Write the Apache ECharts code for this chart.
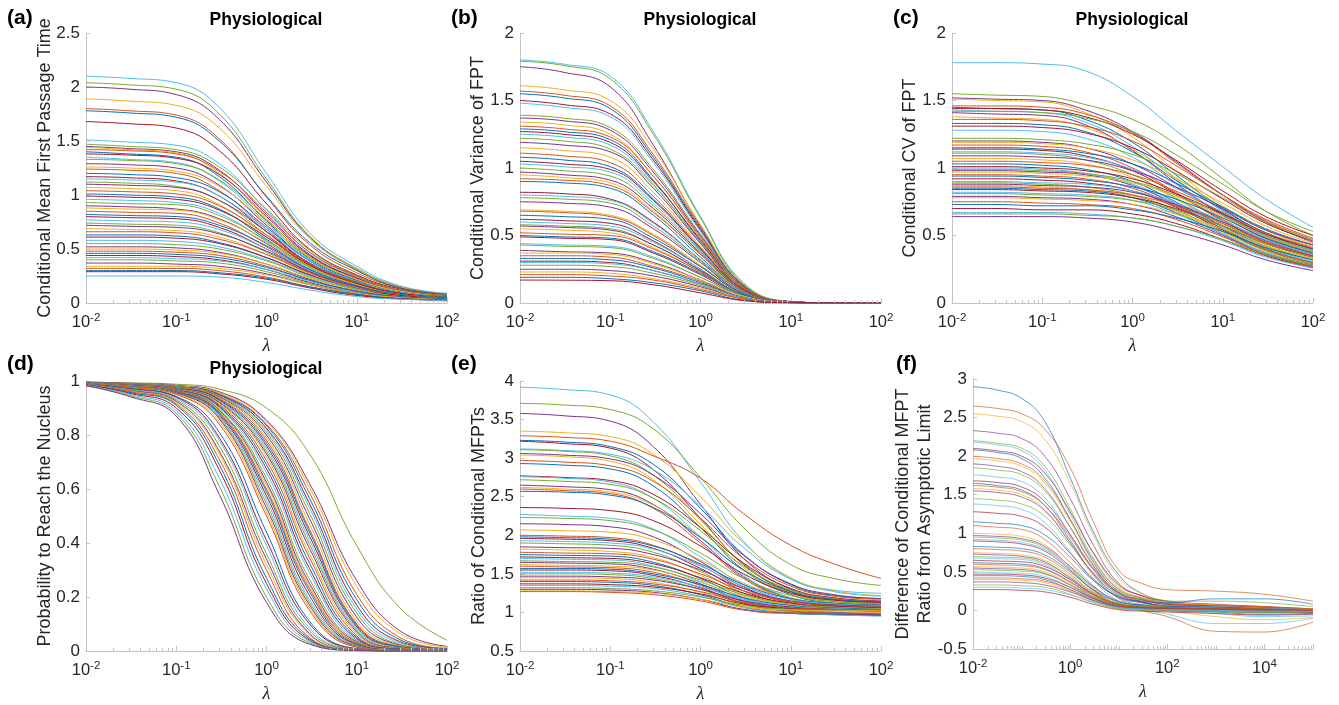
<!DOCTYPE html>
<html>
<head>
<meta charset="utf-8">
<script src="https://cdn.jsdelivr.net/npm/echarts@6/dist/echarts.min.js"></script>
<style>
  html, body { margin: 0; padding: 0; background: #fff; }
  #chart { width: 1339px; height: 705px; }
</style>
</head>
<body>
<div id="chart"></div>
<script>
// ---------------- DATA ----------------
const lambdaGrid = [0.01, 0.03, 0.1, 0.3, 1, 3, 10, 30, 100];
const lambdaGridF = [0.01, 0.03, 0.1, 0.3, 1, 3, 10, 30, 100, 1000, 10000, 100000];

// (a) Conditional mean first passage time
const meanFPT = [
  [2.10, 2.08, 2.04, 1.81, 1.20, 0.65, 0.34, 0.16, 0.09],
  [2.04, 2.02, 1.98, 1.75, 1.15, 0.62, 0.32, 0.15, 0.08],
  [2.00, 1.98, 1.93, 1.70, 1.12, 0.61, 0.31, 0.15, 0.08],
  [1.89, 1.87, 1.83, 1.62, 1.08, 0.60, 0.31, 0.15, 0.08],
  [1.80, 1.78, 1.74, 1.52, 0.98, 0.54, 0.28, 0.14, 0.08],
  [1.78, 1.76, 1.72, 1.50, 0.99, 0.56, 0.30, 0.14, 0.08],
  [1.68, 1.66, 1.62, 1.41, 0.92, 0.50, 0.26, 0.13, 0.07],
  [1.51, 1.49, 1.46, 1.29, 0.86, 0.47, 0.24, 0.12, 0.07],
  [1.47, 1.45, 1.42, 1.26, 0.87, 0.49, 0.25, 0.12, 0.07],
  [1.45, 1.43, 1.40, 1.23, 0.82, 0.45, 0.23, 0.11, 0.06],
  [1.44, 1.42, 1.39, 1.20, 0.78, 0.42, 0.21, 0.10, 0.06],
  [1.42, 1.41, 1.38, 1.22, 0.84, 0.47, 0.25, 0.12, 0.07],
  [1.40, 1.38, 1.35, 1.17, 0.76, 0.41, 0.21, 0.10, 0.06],
  [1.38, 1.37, 1.34, 1.19, 0.80, 0.44, 0.23, 0.11, 0.06],
  [1.35, 1.33, 1.30, 1.13, 0.74, 0.40, 0.20, 0.10, 0.06],
  [1.33, 1.32, 1.29, 1.14, 0.77, 0.43, 0.22, 0.11, 0.06],
  [1.29, 1.28, 1.25, 1.09, 0.72, 0.39, 0.20, 0.10, 0.05],
  [1.26, 1.25, 1.22, 1.08, 0.74, 0.42, 0.22, 0.11, 0.06],
  [1.24, 1.23, 1.20, 1.04, 0.68, 0.37, 0.19, 0.09, 0.05],
  [1.20, 1.19, 1.16, 1.03, 0.70, 0.39, 0.20, 0.10, 0.06],
  [1.17, 1.16, 1.13, 0.99, 0.66, 0.36, 0.18, 0.09, 0.05],
  [1.15, 1.14, 1.12, 0.99, 0.68, 0.39, 0.20, 0.10, 0.05],
  [1.12, 1.11, 1.08, 0.95, 0.63, 0.35, 0.18, 0.09, 0.05],
  [1.10, 1.09, 1.07, 0.95, 0.66, 0.37, 0.19, 0.09, 0.05],
  [1.07, 1.06, 1.04, 0.91, 0.61, 0.34, 0.17, 0.08, 0.05],
  [1.04, 1.03, 1.01, 0.90, 0.63, 0.36, 0.19, 0.09, 0.05],
  [1.01, 1.00, 0.98, 0.87, 0.59, 0.33, 0.17, 0.08, 0.05],
  [0.99, 0.98, 0.96, 0.86, 0.61, 0.35, 0.18, 0.09, 0.05],
  [0.96, 0.95, 0.93, 0.83, 0.57, 0.32, 0.16, 0.08, 0.04],
  [0.93, 0.92, 0.91, 0.81, 0.58, 0.34, 0.17, 0.08, 0.05],
  [0.90, 0.89, 0.87, 0.78, 0.55, 0.31, 0.16, 0.08, 0.04],
  [0.88, 0.87, 0.86, 0.77, 0.56, 0.33, 0.17, 0.08, 0.05],
  [0.85, 0.84, 0.83, 0.74, 0.52, 0.30, 0.15, 0.07, 0.04],
  [0.82, 0.81, 0.80, 0.72, 0.53, 0.31, 0.16, 0.08, 0.05],
  [0.80, 0.79, 0.78, 0.70, 0.50, 0.29, 0.15, 0.07, 0.04],
  [0.77, 0.76, 0.75, 0.68, 0.50, 0.30, 0.15, 0.07, 0.04],
  [0.74, 0.73, 0.72, 0.65, 0.47, 0.28, 0.14, 0.07, 0.04],
  [0.72, 0.71, 0.70, 0.64, 0.48, 0.29, 0.15, 0.07, 0.04],
  [0.69, 0.68, 0.67, 0.61, 0.45, 0.27, 0.14, 0.07, 0.04],
  [0.66, 0.66, 0.65, 0.59, 0.45, 0.28, 0.14, 0.07, 0.04],
  [0.63, 0.63, 0.62, 0.56, 0.42, 0.26, 0.13, 0.06, 0.04],
  [0.61, 0.61, 0.60, 0.55, 0.42, 0.26, 0.13, 0.07, 0.04],
  [0.58, 0.58, 0.57, 0.52, 0.40, 0.25, 0.13, 0.06, 0.04],
  [0.55, 0.55, 0.54, 0.50, 0.39, 0.24, 0.12, 0.06, 0.04],
  [0.52, 0.52, 0.51, 0.47, 0.36, 0.22, 0.11, 0.06, 0.03],
  [0.50, 0.50, 0.49, 0.46, 0.36, 0.23, 0.12, 0.06, 0.04],
  [0.48, 0.48, 0.47, 0.44, 0.34, 0.21, 0.11, 0.05, 0.03],
  [0.46, 0.46, 0.45, 0.42, 0.33, 0.21, 0.11, 0.06, 0.04],
  [0.44, 0.44, 0.43, 0.40, 0.31, 0.19, 0.10, 0.05, 0.03],
  [0.42, 0.42, 0.41, 0.39, 0.31, 0.20, 0.10, 0.05, 0.03],
  [0.40, 0.40, 0.39, 0.37, 0.29, 0.18, 0.09, 0.05, 0.03],
  [0.37, 0.37, 0.36, 0.34, 0.27, 0.17, 0.09, 0.05, 0.03],
  [0.34, 0.34, 0.34, 0.32, 0.26, 0.17, 0.09, 0.05, 0.03],
  [0.32, 0.32, 0.32, 0.30, 0.24, 0.15, 0.08, 0.04, 0.03],
  [0.30, 0.30, 0.30, 0.28, 0.23, 0.15, 0.08, 0.04, 0.03],
  [0.29, 0.29, 0.29, 0.27, 0.22, 0.14, 0.07, 0.04, 0.02],
  [0.25, 0.25, 0.25, 0.24, 0.19, 0.12, 0.06, 0.035, 0.025]
];

// (b) Conditional variance of FPT
const varianceFPT = [
  [1.80, 1.77, 1.68, 1.27, 0.64, 0.15, 0.012, 0.001, 0],
  [1.79, 1.76, 1.66, 1.25, 0.63, 0.14, 0.011, 0.001, 0],
  [1.75, 1.71, 1.60, 1.17, 0.57, 0.13, 0.010, 0.001, 0],
  [1.61, 1.58, 1.50, 1.14, 0.58, 0.14, 0.011, 0.001, 0],
  [1.57, 1.54, 1.46, 1.10, 0.56, 0.13, 0.010, 0.001, 0],
  [1.55, 1.52, 1.44, 1.08, 0.55, 0.13, 0.010, 0.001, 0],
  [1.50, 1.47, 1.40, 1.06, 0.54, 0.12, 0.010, 0.001, 0],
  [1.48, 1.45, 1.38, 1.04, 0.53, 0.12, 0.009, 0.001, 0],
  [1.39, 1.37, 1.30, 0.99, 0.51, 0.12, 0.009, 0.001, 0],
  [1.37, 1.35, 1.28, 0.97, 0.50, 0.12, 0.009, 0.001, 0],
  [1.34, 1.32, 1.25, 0.94, 0.48, 0.11, 0.009, 0.001, 0],
  [1.31, 1.29, 1.23, 0.94, 0.49, 0.12, 0.009, 0.001, 0],
  [1.29, 1.27, 1.21, 0.91, 0.46, 0.11, 0.008, 0.001, 0],
  [1.27, 1.25, 1.19, 0.90, 0.47, 0.11, 0.009, 0.001, 0],
  [1.25, 1.23, 1.17, 0.88, 0.45, 0.10, 0.008, 0.001, 0],
  [1.22, 1.20, 1.14, 0.87, 0.45, 0.11, 0.008, 0.001, 0],
  [1.19, 1.17, 1.12, 0.85, 0.44, 0.10, 0.008, 0.001, 0],
  [1.15, 1.13, 1.08, 0.82, 0.42, 0.10, 0.008, 0.001, 0],
  [1.11, 1.09, 1.04, 0.79, 0.41, 0.10, 0.007, 0.001, 0],
  [1.08, 1.06, 1.01, 0.77, 0.40, 0.09, 0.007, 0.001, 0],
  [1.05, 1.03, 0.99, 0.76, 0.40, 0.10, 0.007, 0.001, 0],
  [1.03, 1.01, 0.97, 0.74, 0.39, 0.09, 0.007, 0.001, 0],
  [1.00, 0.98, 0.94, 0.72, 0.38, 0.09, 0.007, 0.001, 0],
  [0.97, 0.95, 0.91, 0.70, 0.37, 0.09, 0.007, 0.001, 0],
  [0.95, 0.93, 0.89, 0.68, 0.36, 0.08, 0.006, 0.001, 0],
  [0.92, 0.91, 0.87, 0.67, 0.36, 0.09, 0.007, 0.001, 0],
  [0.90, 0.89, 0.85, 0.65, 0.34, 0.08, 0.006, 0.001, 0],
  [0.82, 0.81, 0.77, 0.60, 0.32, 0.08, 0.006, 0.001, 0],
  [0.80, 0.79, 0.76, 0.59, 0.32, 0.08, 0.006, 0.001, 0],
  [0.78, 0.77, 0.74, 0.57, 0.31, 0.07, 0.005, 0.001, 0],
  [0.75, 0.74, 0.71, 0.55, 0.30, 0.07, 0.005, 0.001, 0],
  [0.69, 0.68, 0.65, 0.51, 0.28, 0.07, 0.005, 0.001, 0],
  [0.68, 0.67, 0.64, 0.50, 0.27, 0.07, 0.005, 0.001, 0],
  [0.65, 0.64, 0.62, 0.48, 0.27, 0.07, 0.005, 0.001, 0],
  [0.62, 0.61, 0.59, 0.46, 0.25, 0.06, 0.005, 0.001, 0],
  [0.60, 0.59, 0.57, 0.45, 0.25, 0.06, 0.005, 0.001, 0],
  [0.58, 0.57, 0.55, 0.43, 0.24, 0.06, 0.005, 0.001, 0],
  [0.57, 0.56, 0.54, 0.43, 0.24, 0.06, 0.005, 0.001, 0],
  [0.55, 0.54, 0.52, 0.41, 0.23, 0.06, 0.004, 0.001, 0],
  [0.52, 0.51, 0.50, 0.40, 0.23, 0.06, 0.004, 0.001, 0],
  [0.50, 0.49, 0.48, 0.38, 0.22, 0.06, 0.004, 0.001, 0],
  [0.49, 0.48, 0.47, 0.37, 0.21, 0.05, 0.004, 0.001, 0],
  [0.44, 0.43, 0.42, 0.34, 0.19, 0.05, 0.004, 0.001, 0],
  [0.43, 0.42, 0.41, 0.33, 0.19, 0.05, 0.004, 0.001, 0],
  [0.39, 0.38, 0.37, 0.30, 0.17, 0.04, 0.004, 0.001, 0],
  [0.37, 0.37, 0.36, 0.29, 0.17, 0.05, 0.004, 0.001, 0],
  [0.35, 0.35, 0.34, 0.27, 0.16, 0.04, 0.003, 0.001, 0],
  [0.33, 0.33, 0.32, 0.26, 0.15, 0.04, 0.003, 0.001, 0],
  [0.31, 0.31, 0.30, 0.24, 0.14, 0.04, 0.003, 0.001, 0],
  [0.30, 0.30, 0.29, 0.24, 0.14, 0.04, 0.003, 0.001, 0],
  [0.28, 0.28, 0.27, 0.22, 0.13, 0.03, 0.003, 0.001, 0],
  [0.25, 0.25, 0.24, 0.20, 0.12, 0.03, 0.003, 0.001, 0],
  [0.23, 0.23, 0.22, 0.18, 0.11, 0.03, 0.002, 0.001, 0],
  [0.21, 0.21, 0.20, 0.17, 0.10, 0.03, 0.002, 0.001, 0],
  [0.19, 0.19, 0.18, 0.15, 0.09, 0.02, 0.002, 0.001, 0],
  [0.17, 0.169, 0.165, 0.135, 0.075, 0.018, 0.002, 0.001, 0]
];

// (c) Conditional CV of FPT
const cvFPT = [
  [1.78, 1.78, 1.77, 1.72, 1.53, 1.28, 1.01, 0.77, 0.56],
  [1.55, 1.54, 1.53, 1.47, 1.36, 1.18, 0.92, 0.68, 0.50],
  [1.52, 1.51, 1.50, 1.43, 1.27, 1.05, 0.80, 0.60, 0.45],
  [1.51, 1.50, 1.49, 1.41, 1.23, 0.98, 0.72, 0.54, 0.41],
  [1.46, 1.46, 1.45, 1.40, 1.26, 1.04, 0.80, 0.61, 0.47],
  [1.45, 1.44, 1.43, 1.36, 1.19, 0.95, 0.70, 0.52, 0.40],
  [1.44, 1.44, 1.43, 1.38, 1.25, 1.06, 0.83, 0.64, 0.50],
  [1.43, 1.42, 1.41, 1.34, 1.16, 0.92, 0.68, 0.50, 0.38],
  [1.42, 1.42, 1.41, 1.37, 1.27, 1.10, 0.88, 0.68, 0.53],
  [1.41, 1.40, 1.39, 1.32, 1.13, 0.89, 0.65, 0.48, 0.37],
  [1.38, 1.37, 1.36, 1.30, 1.14, 0.93, 0.71, 0.54, 0.42],
  [1.36, 1.36, 1.35, 1.31, 1.20, 1.02, 0.80, 0.62, 0.48],
  [1.33, 1.33, 1.32, 1.27, 1.12, 0.91, 0.69, 0.52, 0.40],
  [1.31, 1.31, 1.30, 1.26, 1.15, 0.98, 0.77, 0.59, 0.46],
  [1.28, 1.28, 1.27, 1.22, 1.08, 0.88, 0.66, 0.50, 0.39],
  [1.22, 1.22, 1.21, 1.18, 1.10, 0.96, 0.78, 0.60, 0.47],
  [1.20, 1.20, 1.19, 1.15, 1.03, 0.86, 0.66, 0.49, 0.38],
  [1.19, 1.19, 1.18, 1.15, 1.06, 0.92, 0.74, 0.57, 0.44],
  [1.17, 1.17, 1.16, 1.12, 1.00, 0.82, 0.62, 0.47, 0.36],
  [1.15, 1.15, 1.14, 1.11, 1.03, 0.89, 0.71, 0.55, 0.43],
  [1.14, 1.14, 1.13, 1.09, 0.98, 0.81, 0.61, 0.45, 0.35],
  [1.12, 1.12, 1.11, 1.08, 0.99, 0.85, 0.67, 0.51, 0.40],
  [1.11, 1.11, 1.10, 1.06, 0.95, 0.78, 0.59, 0.44, 0.34],
  [1.09, 1.09, 1.08, 1.06, 0.98, 0.86, 0.70, 0.54, 0.43],
  [1.07, 1.07, 1.06, 1.03, 0.93, 0.77, 0.58, 0.43, 0.33],
  [1.05, 1.05, 1.04, 1.02, 0.95, 0.83, 0.67, 0.52, 0.41],
  [1.03, 1.03, 1.02, 0.99, 0.90, 0.75, 0.57, 0.42, 0.32],
  [1.01, 1.01, 1.00, 0.98, 0.92, 0.81, 0.66, 0.51, 0.40],
  [1.00, 1.00, 0.99, 0.96, 0.88, 0.74, 0.56, 0.41, 0.31],
  [0.99, 0.99, 0.98, 0.96, 0.90, 0.80, 0.65, 0.50, 0.39],
  [0.98, 0.98, 0.97, 0.95, 0.87, 0.73, 0.55, 0.40, 0.30],
  [0.97, 0.97, 0.96, 0.94, 0.89, 0.79, 0.64, 0.49, 0.38],
  [0.95, 0.95, 0.94, 0.92, 0.85, 0.72, 0.55, 0.40, 0.30],
  [0.94, 0.94, 0.93, 0.91, 0.86, 0.77, 0.63, 0.48, 0.37],
  [0.92, 0.92, 0.91, 0.89, 0.83, 0.71, 0.54, 0.39, 0.29],
  [0.90, 0.90, 0.89, 0.88, 0.83, 0.74, 0.61, 0.47, 0.36],
  [0.89, 0.89, 0.88, 0.86, 0.80, 0.69, 0.53, 0.39, 0.29],
  [0.88, 0.88, 0.87, 0.86, 0.82, 0.73, 0.60, 0.46, 0.35],
  [0.87, 0.87, 0.86, 0.84, 0.79, 0.68, 0.52, 0.38, 0.28],
  [0.86, 0.86, 0.85, 0.84, 0.80, 0.72, 0.59, 0.45, 0.35],
  [0.85, 0.85, 0.84, 0.83, 0.78, 0.67, 0.51, 0.37, 0.28],
  [0.84, 0.84, 0.83, 0.82, 0.78, 0.70, 0.57, 0.44, 0.34],
  [0.82, 0.82, 0.81, 0.80, 0.76, 0.66, 0.51, 0.37, 0.27],
  [0.81, 0.81, 0.80, 0.79, 0.76, 0.69, 0.57, 0.44, 0.34],
  [0.79, 0.79, 0.78, 0.77, 0.73, 0.64, 0.50, 0.36, 0.27],
  [0.78, 0.78, 0.77, 0.76, 0.73, 0.66, 0.55, 0.42, 0.33],
  [0.75, 0.75, 0.74, 0.73, 0.70, 0.62, 0.49, 0.36, 0.27],
  [0.73, 0.73, 0.72, 0.72, 0.69, 0.63, 0.53, 0.41, 0.32],
  [0.70, 0.70, 0.69, 0.69, 0.66, 0.59, 0.47, 0.35, 0.26],
  [0.67, 0.67, 0.67, 0.66, 0.63, 0.57, 0.46, 0.34, 0.26],
  [0.66, 0.66, 0.66, 0.65, 0.63, 0.57, 0.47, 0.36, 0.28],
  [0.64, 0.64, 0.64, 0.63, 0.60, 0.53, 0.43, 0.32, 0.24]
];

// (d) Probability to reach the nucleus
const probNucleus = [
  [0.996, 0.993, 0.988, 0.970, 0.900, 0.730, 0.390, 0.160, 0.040],
  [0.996, 0.992, 0.984, 0.960, 0.855, 0.620, 0.260, 0.075, 0.017],
  [0.995, 0.991, 0.982, 0.956, 0.850, 0.605, 0.240, 0.065, 0.014],
  [0.995, 0.990, 0.980, 0.952, 0.840, 0.585, 0.210, 0.050, 0.010],
  [0.995, 0.990, 0.980, 0.950, 0.835, 0.565, 0.190, 0.042, 0.008],
  [0.994, 0.989, 0.979, 0.948, 0.825, 0.545, 0.170, 0.035, 0.007],
  [0.994, 0.989, 0.979, 0.946, 0.818, 0.530, 0.155, 0.030, 0.006],
  [0.994, 0.989, 0.978, 0.944, 0.810, 0.510, 0.140, 0.025, 0.005],
  [0.994, 0.988, 0.977, 0.941, 0.800, 0.490, 0.125, 0.022, 0.004],
  [0.993, 0.988, 0.976, 0.938, 0.790, 0.470, 0.110, 0.020, 0.004],
  [0.993, 0.987, 0.975, 0.935, 0.780, 0.450, 0.100, 0.017, 0.003],
  [0.993, 0.987, 0.974, 0.932, 0.770, 0.440, 0.095, 0.016, 0.003],
  [0.993, 0.986, 0.973, 0.929, 0.760, 0.425, 0.089, 0.014, 0.003],
  [0.993, 0.986, 0.972, 0.926, 0.750, 0.410, 0.082, 0.013, 0.002],
  [0.992, 0.985, 0.971, 0.923, 0.740, 0.395, 0.076, 0.011, 0.002],
  [0.992, 0.985, 0.970, 0.920, 0.730, 0.380, 0.070, 0.010, 0.002],
  [0.992, 0.984, 0.969, 0.916, 0.720, 0.360, 0.063, 0.009, 0.002],
  [0.992, 0.984, 0.968, 0.912, 0.705, 0.345, 0.056, 0.008, 0.001],
  [0.992, 0.983, 0.967, 0.908, 0.690, 0.325, 0.050, 0.007, 0.001],
  [0.991, 0.983, 0.966, 0.904, 0.675, 0.305, 0.045, 0.006, 0.001],
  [0.991, 0.982, 0.965, 0.900, 0.660, 0.290, 0.040, 0.005, 0.001],
  [0.991, 0.982, 0.964, 0.894, 0.640, 0.265, 0.036, 0.004, 0.001],
  [0.991, 0.981, 0.963, 0.891, 0.625, 0.250, 0.033, 0.004, 0.001],
  [0.991, 0.981, 0.962, 0.888, 0.615, 0.240, 0.030, 0.004, 0],
  [0.990, 0.980, 0.961, 0.884, 0.600, 0.230, 0.028, 0.003, 0],
  [0.990, 0.980, 0.960, 0.880, 0.590, 0.220, 0.025, 0.003, 0],
  [0.990, 0.979, 0.958, 0.875, 0.575, 0.205, 0.023, 0.003, 0],
  [0.990, 0.979, 0.957, 0.870, 0.560, 0.190, 0.021, 0.002, 0],
  [0.990, 0.978, 0.956, 0.865, 0.545, 0.180, 0.019, 0.002, 0],
  [0.990, 0.978, 0.955, 0.860, 0.530, 0.170, 0.017, 0.002, 0],
  [0.990, 0.977, 0.952, 0.850, 0.515, 0.160, 0.015, 0.002, 0],
  [0.990, 0.976, 0.950, 0.840, 0.500, 0.150, 0.014, 0.001, 0],
  [0.989, 0.973, 0.943, 0.810, 0.440, 0.110, 0.009, 0.001, 0],
  [0.988, 0.971, 0.940, 0.790, 0.410, 0.100, 0.008, 0, 0],
  [0.988, 0.969, 0.935, 0.780, 0.390, 0.085, 0.007, 0, 0],
  [0.987, 0.967, 0.930, 0.760, 0.360, 0.075, 0.006, 0, 0],
  [0.987, 0.965, 0.925, 0.740, 0.340, 0.065, 0.005, 0, 0],
  [0.986, 0.963, 0.920, 0.730, 0.320, 0.060, 0.005, 0, 0],
  [0.986, 0.961, 0.915, 0.710, 0.300, 0.050, 0.004, 0, 0],
  [0.985, 0.958, 0.910, 0.690, 0.270, 0.045, 0.004, 0, 0],
  [0.985, 0.955, 0.900, 0.670, 0.250, 0.040, 0.003, 0, 0],
  [0.984, 0.951, 0.890, 0.640, 0.230, 0.035, 0.003, 0, 0],
  [0.983, 0.947, 0.880, 0.610, 0.200, 0.030, 0.002, 0, 0],
  [0.982, 0.943, 0.870, 0.580, 0.180, 0.025, 0.002, 0, 0]
];

// (e) Ratio of conditional MFPTs
const ratioMFPT = [
  [3.92, 3.89, 3.82, 3.47, 2.69, 1.92, 1.44, 1.29, 1.25],
  [3.71, 3.69, 3.63, 3.38, 2.75, 2.10, 1.62, 1.44, 1.35],
  [3.58, 3.55, 3.48, 3.15, 2.40, 1.70, 1.30, 1.18, 1.14],
  [3.35, 3.33, 3.28, 3.05, 2.50, 1.90, 1.45, 1.28, 1.22],
  [3.29, 3.27, 3.22, 3.03, 2.74, 2.28, 1.87, 1.63, 1.44],
  [3.23, 3.21, 3.15, 2.92, 2.35, 1.75, 1.36, 1.22, 1.18],
  [3.22, 3.19, 3.13, 2.85, 2.22, 1.62, 1.27, 1.15, 1.12],
  [3.12, 3.10, 3.05, 2.85, 2.38, 1.84, 1.43, 1.27, 1.21],
  [3.11, 3.09, 3.03, 2.78, 2.20, 1.63, 1.28, 1.16, 1.12],
  [3.06, 3.04, 2.99, 2.78, 2.28, 1.74, 1.37, 1.23, 1.18],
  [3.04, 3.02, 2.96, 2.72, 2.14, 1.58, 1.25, 1.14, 1.10],
  [2.97, 2.95, 2.90, 2.70, 2.22, 1.70, 1.34, 1.21, 1.17],
  [2.93, 2.91, 2.86, 2.64, 2.10, 1.55, 1.23, 1.12, 1.08],
  [2.77, 2.75, 2.71, 2.53, 2.10, 1.64, 1.31, 1.19, 1.15],
  [2.76, 2.74, 2.69, 2.48, 1.98, 1.48, 1.19, 1.10, 1.07],
  [2.72, 2.70, 2.66, 2.48, 2.06, 1.60, 1.29, 1.18, 1.14],
  [2.65, 2.63, 2.59, 2.40, 1.93, 1.46, 1.18, 1.09, 1.06],
  [2.62, 2.60, 2.56, 2.39, 1.98, 1.54, 1.25, 1.15, 1.12],
  [2.60, 2.58, 2.54, 2.35, 1.90, 1.44, 1.17, 1.08, 1.05],
  [2.57, 2.56, 2.52, 2.36, 1.97, 1.55, 1.27, 1.17, 1.14],
  [2.36, 2.35, 2.32, 2.19, 1.86, 1.50, 1.25, 1.16, 1.13],
  [2.27, 2.25, 2.22, 2.08, 1.72, 1.36, 1.14, 1.07, 1.05],
  [2.23, 2.22, 2.19, 2.07, 1.77, 1.44, 1.22, 1.14, 1.11],
  [2.15, 2.14, 2.11, 1.98, 1.66, 1.33, 1.13, 1.06, 1.04],
  [2.07, 2.06, 2.04, 1.94, 1.68, 1.38, 1.19, 1.12, 1.10],
  [2.00, 1.99, 1.97, 1.87, 1.61, 1.31, 1.12, 1.06, 1.04],
  [1.98, 1.97, 1.95, 1.86, 1.63, 1.36, 1.18, 1.12, 1.10],
  [1.96, 1.95, 1.93, 1.83, 1.57, 1.28, 1.10, 1.04, 1.02],
  [1.93, 1.92, 1.90, 1.82, 1.60, 1.34, 1.17, 1.11, 1.09],
  [1.90, 1.89, 1.87, 1.78, 1.53, 1.25, 1.08, 1.03, 1.01],
  [1.85, 1.84, 1.83, 1.75, 1.55, 1.31, 1.15, 1.10, 1.08],
  [1.82, 1.81, 1.79, 1.71, 1.48, 1.22, 1.06, 1.01, 1.00],
  [1.78, 1.77, 1.76, 1.69, 1.50, 1.28, 1.14, 1.09, 1.07],
  [1.75, 1.74, 1.73, 1.65, 1.44, 1.19, 1.04, 1.00, 0.98],
  [1.72, 1.71, 1.70, 1.63, 1.45, 1.25, 1.12, 1.08, 1.06],
  [1.70, 1.69, 1.68, 1.60, 1.40, 1.17, 1.03, 0.99, 0.97],
  [1.67, 1.66, 1.65, 1.59, 1.42, 1.23, 1.11, 1.07, 1.05],
  [1.65, 1.64, 1.63, 1.56, 1.37, 1.15, 1.02, 0.98, 0.96],
  [1.62, 1.61, 1.60, 1.55, 1.39, 1.21, 1.10, 1.06, 1.05],
  [1.60, 1.59, 1.58, 1.52, 1.35, 1.14, 1.02, 0.99, 0.97],
  [1.57, 1.57, 1.56, 1.50, 1.36, 1.19, 1.09, 1.06, 1.04],
  [1.55, 1.55, 1.54, 1.48, 1.32, 1.12, 1.01, 0.98, 0.96],
  [1.52, 1.52, 1.51, 1.46, 1.33, 1.17, 1.08, 1.05, 1.03],
  [1.50, 1.50, 1.49, 1.44, 1.30, 1.11, 1.01, 0.98, 0.97],
  [1.47, 1.47, 1.46, 1.42, 1.30, 1.15, 1.07, 1.04, 1.03],
  [1.45, 1.45, 1.44, 1.39, 1.26, 1.09, 1.00, 0.97, 0.96],
  [1.42, 1.42, 1.41, 1.37, 1.27, 1.13, 1.06, 1.04, 1.03],
  [1.40, 1.40, 1.39, 1.35, 1.23, 1.07, 0.99, 0.97, 0.96],
  [1.37, 1.37, 1.36, 1.33, 1.24, 1.11, 1.05, 1.03, 1.02],
  [1.35, 1.35, 1.34, 1.31, 1.21, 1.06, 0.99, 0.97, 0.95],
  [1.32, 1.32, 1.31, 1.28, 1.20, 1.09, 1.04, 1.03, 1.02],
  [1.30, 1.30, 1.29, 1.26, 1.17, 1.04, 0.99, 0.98, 0.97],
  [1.28, 1.28, 1.27, 1.25, 1.17, 1.07, 1.03, 1.02, 1.02],
  [1.27, 1.27, 1.26, 1.23, 1.15, 1.03, 0.99, 0.99, 0.99]
];

// (f) Difference of conditional MFPT ratio from asymptotic limit
const diffRatio = [
  [2.90, 2.86, 2.75, 2.45, 1.72, 1.02, 0.46, 0.22, 0.12, 0.03, 0.00, -0.02],
  [2.65, 2.62, 2.55, 2.35, 1.85, 1.15, 0.52, 0.35, 0.27, 0.25, 0.21, 0.12],
  [2.55, 2.52, 2.45, 2.22, 1.65, 0.98, 0.42, 0.22, 0.12, 0.06, 0.04, 0.02],
  [2.33, 2.30, 2.23, 2.00, 1.45, 0.85, 0.35, 0.19, 0.10, 0.05, 0.03, 0.00],
  [2.20, 2.17, 2.10, 1.87, 1.32, 0.74, 0.30, 0.16, 0.08, 0.04, 0.02, 0.01],
  [2.18, 2.15, 2.07, 1.82, 1.25, 0.68, 0.27, 0.14, 0.07, 0.03, 0.02, 0.00],
  [2.10, 2.07, 2.00, 1.78, 1.28, 0.75, 0.33, 0.19, 0.12, 0.08, 0.05, 0.02],
  [2.08, 2.05, 1.97, 1.72, 1.18, 0.63, 0.24, 0.12, 0.05, 0.02, 0.00, -0.03],
  [2.00, 1.97, 1.90, 1.68, 1.18, 0.66, 0.27, 0.16, 0.09, 0.05, 0.03, 0.01],
  [1.97, 1.94, 1.87, 1.65, 1.16, 0.66, 0.28, 0.17, 0.10, 0.07, 0.04, 0.02],
  [1.90, 1.87, 1.80, 1.58, 1.08, 0.58, 0.22, 0.11, 0.05, 0.02, 0.00, -0.02],
  [1.85, 1.82, 1.76, 1.55, 1.08, 0.60, 0.25, 0.14, 0.08, 0.05, 0.03, 0.00],
  [1.76, 1.73, 1.67, 1.46, 0.99, 0.53, 0.20, 0.10, 0.04, 0.01, -0.01, -0.03],
  [1.68, 1.66, 1.60, 1.41, 0.98, 0.55, 0.23, 0.14, 0.08, 0.06, 0.04, 0.01],
  [1.65, 1.62, 1.56, 1.36, 0.91, 0.47, 0.16, 0.07, 0.02, -0.02, -0.05, -0.04],
  [1.62, 1.60, 1.54, 1.36, 0.95, 0.53, 0.22, 0.14, 0.09, 0.07, 0.05, 0.02],
  [1.58, 1.56, 1.50, 1.31, 0.87, 0.45, 0.15, 0.05, 0.00, -0.08, -0.12, -0.09],
  [1.55, 1.53, 1.47, 1.29, 0.88, 0.48, 0.19, 0.11, 0.06, 0.04, 0.02, 0.00],
  [1.45, 1.43, 1.38, 1.22, 0.85, 0.49, 0.22, 0.15, 0.12, 0.12, 0.10, 0.05],
  [1.38, 1.36, 1.31, 1.14, 0.76, 0.39, 0.12, 0.02, -0.05, -0.17, -0.17, -0.10],
  [1.28, 1.26, 1.22, 1.08, 0.74, 0.41, 0.17, 0.10, 0.06, 0.04, 0.02, 0.00],
  [1.15, 1.13, 1.10, 0.98, 0.69, 0.39, 0.18, 0.12, 0.10, 0.15, 0.15, 0.08],
  [1.10, 1.08, 1.05, 0.92, 0.62, 0.32, 0.10, 0.00, -0.08, -0.27, -0.28, -0.15],
  [1.00, 0.99, 0.96, 0.85, 0.57, 0.29, 0.10, 0.05, 0.03, 0.02, 0.00, -0.02],
  [0.97, 0.96, 0.93, 0.83, 0.57, 0.31, 0.12, 0.07, 0.05, 0.04, 0.02, 0.00],
  [0.95, 0.94, 0.91, 0.81, 0.54, 0.27, 0.08, 0.04, 0.01, 0.00, -0.02, -0.03],
  [0.92, 0.91, 0.88, 0.79, 0.55, 0.30, 0.12, 0.08, 0.06, 0.05, 0.03, 0.01],
  [0.90, 0.89, 0.86, 0.77, 0.52, 0.26, 0.08, 0.04, 0.02, 0.01, -0.01, -0.02],
  [0.83, 0.82, 0.80, 0.72, 0.50, 0.27, 0.11, 0.07, 0.05, 0.04, 0.02, 0.00],
  [0.80, 0.79, 0.77, 0.69, 0.47, 0.23, 0.07, 0.04, 0.02, 0.01, -0.01, -0.02],
  [0.75, 0.74, 0.72, 0.65, 0.45, 0.24, 0.09, 0.06, 0.04, 0.03, 0.01, 0.00],
  [0.73, 0.72, 0.70, 0.63, 0.42, 0.21, 0.06, 0.03, 0.01, 0.00, -0.02, -0.03],
  [0.70, 0.69, 0.68, 0.61, 0.43, 0.23, 0.09, 0.06, 0.04, 0.03, 0.02, 0.00],
  [0.68, 0.67, 0.66, 0.59, 0.40, 0.20, 0.06, 0.03, 0.01, -0.04, -0.08, -0.07],
  [0.65, 0.64, 0.63, 0.57, 0.40, 0.21, 0.08, 0.05, 0.03, 0.02, 0.01, -0.01],
  [0.62, 0.61, 0.60, 0.54, 0.37, 0.18, 0.05, 0.02, 0.00, -0.01, -0.02, -0.03],
  [0.60, 0.59, 0.58, 0.53, 0.37, 0.20, 0.08, 0.06, 0.04, 0.03, 0.02, 0.00],
  [0.57, 0.56, 0.55, 0.50, 0.35, 0.18, 0.06, 0.04, 0.02, 0.01, 0.00, -0.01],
  [0.55, 0.54, 0.53, 0.48, 0.33, 0.16, 0.04, 0.02, 0.00, -0.01, -0.03, -0.03],
  [0.53, 0.52, 0.51, 0.47, 0.33, 0.18, 0.07, 0.05, 0.03, 0.02, 0.01, 0.00],
  [0.50, 0.49, 0.48, 0.44, 0.30, 0.15, 0.04, 0.02, 0.01, 0.00, -0.01, -0.02],
  [0.47, 0.47, 0.46, 0.42, 0.30, 0.16, 0.06, 0.04, 0.03, 0.02, 0.01, 0.00],
  [0.45, 0.45, 0.44, 0.40, 0.27, 0.13, 0.03, 0.01, 0.00, -0.01, -0.02, -0.02],
  [0.42, 0.42, 0.41, 0.38, 0.27, 0.15, 0.06, 0.04, 0.03, 0.02, 0.01, 0.00],
  [0.40, 0.40, 0.39, 0.36, 0.25, 0.12, 0.03, 0.01, 0.00, -0.01, -0.02, -0.02],
  [0.37, 0.37, 0.36, 0.33, 0.24, 0.13, 0.05, 0.03, 0.02, 0.01, 0.00, -0.01],
  [0.33, 0.33, 0.32, 0.30, 0.21, 0.10, 0.02, 0.00, -0.01, -0.02, -0.03, -0.02],
  [0.30, 0.30, 0.29, 0.27, 0.20, 0.11, 0.04, 0.02, 0.01, 0.00, -0.01, -0.01],
  [0.27, 0.27, 0.26, 0.24, 0.17, 0.08, 0.01, -0.01, -0.02, -0.04, -0.06, -0.05]
];

const panelLabels = ['(a)', '(b)', '(c)', '(d)', '(e)', '(f)'];
const panelTitles = ['Physiological', 'Physiological', 'Physiological', 'Physiological', '', ''];
const yAxisNames = [
  'Conditional Mean First Passage Time',
  'Conditional Variance of FPT',
  'Conditional CV of FPT',
  'Probability to Reach the Nucleus',
  'Ratio of Conditional MFPTs',
  'Difference of Conditional MFPT\nRatio from Asymptotic Limit'
];
const xAxisName = 'λ';
const yRanges = [[0, 2.5, 0.5], [0, 2, 0.5], [0, 2, 0.5], [0, 1, 0.2], [0.5, 4, 0.5], [-0.5, 3, 0.5]];
const xRanges = [[0.01, 100], [0.01, 100], [0.01, 100], [0.01, 100], [0.01, 100], [0.01, 100000]];

// ---------------- LAYOUT / STYLE ----------------
const FONT = '"Liberation Sans", Arial, Helvetica, sans-serif';
const TXT = '#262626';
const AX = '#c4c4c4';
const palette = ['#0072BD', '#D95319', '#EDB120', '#7E2F8E', '#77AC30', '#4DBEEE', '#A2142F'];

const panels = [
  { grid: { left: 86, top: 33, width: 361, height: 270 }, x: lambdaGrid, curves: meanFPT, c0: 5, step: 6, nameGap: 30, lbl: [7, 18], tit: [266, 20] },
  { grid: { left: 520, top: 33, width: 361, height: 270 }, x: lambdaGrid, curves: varianceFPT, c0: 5, step: 6, nameGap: 31, lbl: [451, 18], tit: [700, 20] },
  { grid: { left: 952, top: 33, width: 361, height: 270 }, x: lambdaGrid, curves: cvFPT, c0: 5, step: 6, nameGap: 31, lbl: [893, 18], tit: [1132, 20] },
  { grid: { left: 86, top: 381, width: 361, height: 270 }, x: lambdaGrid, curves: probNucleus, c0: 4, step: 6, nameGap: 30, lbl: [7, 364], tit: [266, 369] },
  { grid: { left: 520, top: 381, width: 361, height: 270 }, x: lambdaGrid, curves: ratioMFPT, c0: 5, step: 6, nameGap: 30, lbl: [451, 364], tit: null },
  { grid: { left: 973, top: 379, width: 340, height: 270 }, x: lambdaGridF, curves: diffRatio, c0: 0, step: 1, nameGap: 37, lbl: [896, 364], tit: null, thin: true, everyOther: true }
];

const option = {
  animation: false,
  backgroundColor: '#ffffff',
  grid: [], xAxis: [], yAxis: [], series: [], graphic: []
};

panels.forEach((p, i) => {
  const [ymin, ymax, yint] = yRanges[i];
  const [xmin, xmax] = xRanges[i];
  option.grid.push(Object.assign({ containLabel: false }, p.grid));
  option.xAxis.push({
    type: 'log', logBase: 10, gridIndex: i, min: xmin, max: xmax,
    interval: p.everyOther ? 2 : undefined,
    name: xAxisName, nameLocation: 'middle', nameGap: 34, nameMoveOverlap: false,
    nameTextStyle: { fontFamily: '"Liberation Serif", "DejaVu Serif", serif', fontStyle: 'italic', fontSize: 18, color: TXT },
    axisLine: { show: true, onZero: false, lineStyle: { color: AX, width: 1 } },
    axisTick: { show: true, inside: true, length: 5, lineStyle: { color: AX } },
    minorTick: { show: false },
    splitLine: { show: false },
    axisLabel: {
      showMinLabel: true, showMaxLabel: true, margin: 9,
      formatter: function (v) {
        const e = Math.round(Math.log10(v));
        if (p.everyOther && e % 2 !== 0) return '';
        return '{b|10}{s|' + e + '}';
      },
      rich: {
        b: { fontFamily: FONT, fontSize: 16.5, color: TXT, lineHeight: 19, verticalAlign: 'bottom' },
        s: { fontFamily: FONT, fontSize: 11.5, color: TXT, lineHeight: 10, verticalAlign: 'top' }
      }
    }
  });
  option.yAxis.push({
    type: 'value', gridIndex: i, min: ymin, max: ymax, interval: yint,
    name: yAxisNames[i], nameLocation: 'middle', nameGap: p.nameGap, nameMoveOverlap: false,
    nameTextStyle: { fontFamily: FONT, fontSize: 18, color: TXT, lineHeight: 22 },
    axisLine: { show: true, onZero: false, lineStyle: { color: AX, width: 1 } },
    axisTick: { show: true, inside: true, length: 4, lineStyle: { color: AX } },
    splitLine: { show: false },
    axisLabel: { fontFamily: FONT, fontSize: 17, color: TXT, margin: 6, showMinLabel: true, showMaxLabel: true }
  });

  p.curves.forEach((c, j) => {
    option.series.push({
      type: 'line', xAxisIndex: i, yAxisIndex: i,
      data: p.x.map((x, k) => [x, c[k]]),
      showSymbol: false, symbol: 'none', smooth: 0.45,
      silent: true, emphasis: { disabled: true },
      lineStyle: { width: p.thin ? 0.8 : 1, color: palette[(p.c0 + j * p.step) % 7], opacity: p.thin ? 0.85 : 1 },
      z: 2
    });
  });

  // log-axis minor ticks (2..9 of each decade), placed through the axis scale
  const minor = [];
  const e0 = Math.round(Math.log10(xmin)), e1 = Math.round(Math.log10(xmax));
  for (let e = e0; e < e1; e++) {
    for (let k = 2; k <= 9; k++) minor.push(k * Math.pow(10, e));
    if (p.everyOther && e > e0 && (e - e0) % 2 === 1) minor.push(Math.pow(10, e));
  }
  option.series.push({
    type: 'custom', xAxisIndex: i, yAxisIndex: i, silent: true, z: 5,
    data: minor.map(v => [v, ymin]),
    renderItem: function (params, api) {
      const pt = api.coord([api.value(0), api.value(1)]);
      const x = Math.round(pt[0]) + 0.5;
      return { type: 'line', shape: { x1: x, y1: pt[1], x2: x, y2: pt[1] - 3 }, style: { stroke: AX, lineWidth: 1 } };
    }
  });

  option.graphic.push({
    type: 'text', x: p.lbl[0], y: p.lbl[1],
    style: { text: panelLabels[i], fontFamily: FONT, fontSize: 21, fontWeight: 'bold', fill: '#000', align: 'left', verticalAlign: 'middle' }
  });
  if (p.tit && panelTitles[i]) {
    option.graphic.push({
      type: 'text', x: p.tit[0], y: p.tit[1],
      style: { text: panelTitles[i], fontFamily: FONT, fontSize: 17.5, fontWeight: 'bold', fill: '#000', align: 'center', verticalAlign: 'middle' }
    });
  }
});

const chart = echarts.init(document.getElementById('chart'), null, { renderer: 'canvas' });
chart.setOption(option);
</script>
</body>
</html>
